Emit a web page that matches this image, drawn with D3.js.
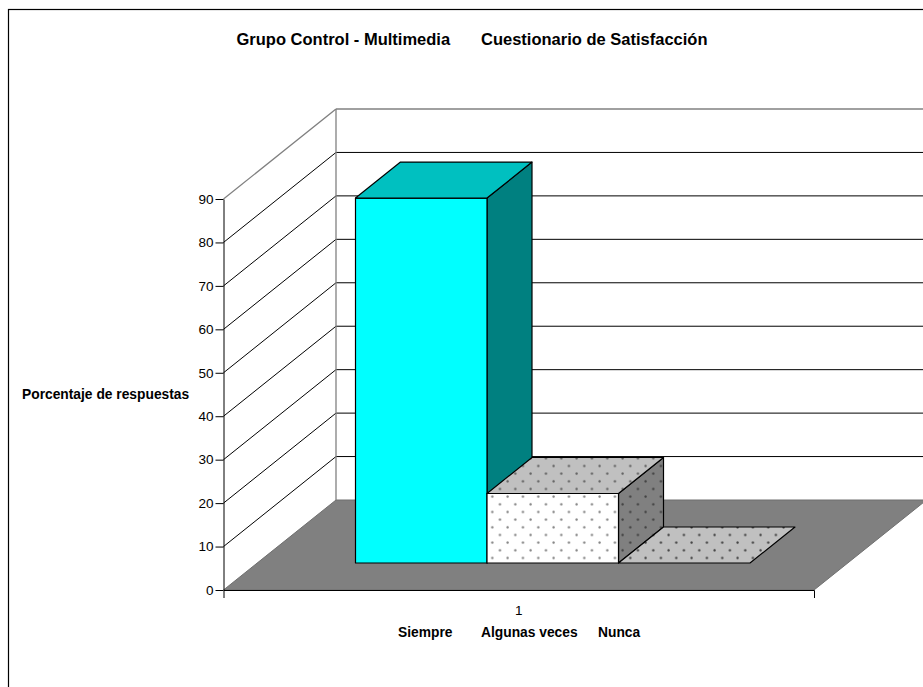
<!DOCTYPE html>
<html>
<head>
<meta charset="utf-8">
<script src="https://cdn.jsdelivr.net/npm/d3@7"></script>
<style>
    html, body { margin: 0; background: #fff; }
    svg { display: block; }
    text { font-family: "Liberation Sans", Arial, sans-serif; fill: #000; }
    .bold { font-weight: bold; font-size: 13.8px; }
</style>
</head>
<body>
<svg id="chart" width="923" height="687"></svg>
<script>
const title1 = "Grupo Control - Multimedia";
const title2 = "Cuestionario de Satisfacción";
const yTitle = "Porcentaje de respuestas";
const categories = ["1"];
const series = ["Siempre", "Algunas veces", "Nunca"];
const values = [84, 16, 0];
const yTicks = [0, 10, 20, 30, 40, 50, 60, 70, 80, 90];

const svg = d3.select("#chart");

// Excel style oblique projection: depth 0 is the front edge, depth 1 the back wall
const y = d3.scaleLinear().domain([0, 90]).range([590, 199]);
const xCat = d3.scaleBand().domain(categories).range([223.5, 814]);
const xBar = d3.scaleBand().domain(series).range([321.75, 716.25]);
const depthX = d3.scaleLinear().domain([0, 1]).range([0, 112.5]);
const depthY = d3.scaleLinear().domain([0, 1]).range([0, -90]);

const barFront = 0.3, barBack = 0.7;
const xLeft = xCat.range()[0], xRight = xCat.range()[1];

// screen point for (x on front edge, value, depth)
const pt = (x, v, d) => [x + depthX(d), y(v) + depthY(d)];
const poly = pts => d3.line()(pts) + "Z";

function addDots(id, bg, dot) {
    let p = svg.append("defs").append("pattern")
        .attr("id", id)
        .attr("patternUnits", "userSpaceOnUse")
        .attr("x", 492.3 - 1.5).attr("y", 496.7 - 1.5)
        .attr("width", 15.33).attr("height", 15.33);
    p.append("rect").attr("width", 16).attr("height", 16).attr("fill", bg);
    p.append("circle").attr("cx", 1.5).attr("cy", 1.5).attr("r", 1.15).attr("fill", dot);
    p.append("circle").attr("cx", 1.5 + 7.67).attr("cy", 1.5 + 7.67).attr("r", 1.15).attr("fill", dot);
}
addDots("dotsFront", "#fff", "#808080");
addDots("dotsTop", "#c0c0c0", "#606060");
addDots("dotsSide", "#808080", "#404040");
addDots("dotsFlat", "#c0c0c0", "#404040");

const faces = [
    { front: "#00ffff", top: "#00c0c0", side: "#008080" },
    { front: "url(#dotsFront)", top: "url(#dotsTop)", side: "url(#dotsSide)" },
    { front: "url(#dotsFront)", top: "url(#dotsFlat)", side: "url(#dotsSide)" }
];

// outer frame, runs off the right and bottom of the page
svg.append("rect")
    .attr("x", 8.5).attr("y", 9.5).attr("width", 1000).attr("height", 1000)
    .attr("fill", "#fff").attr("stroke", "#000").attr("stroke-width", 1.2);

// floor
svg.append("path")
    .attr("d", poly([pt(xLeft, 0, 0), pt(xRight, 0, 0), pt(xRight, 0, 1), pt(xLeft, 0, 1)]))
    .attr("fill", "#808080").attr("stroke", "#6e6e6e");

// walls
svg.append("g").selectAll("line").data(yTicks).join("line")
    .attr("x1", d => pt(xLeft, d, 0)[0]).attr("y1", d => pt(xLeft, d, 0)[1])
    .attr("x2", d => pt(xLeft, d, 1)[0]).attr("y2", d => pt(xLeft, d, 1)[1])
    .attr("stroke", d => d == 90 ? "#808080" : "#000")
    .attr("stroke-width", d => d == 90 ? 1.3 : 1)
    .attr("display", d => d == 0 ? "none" : null);
svg.append("g").selectAll("line").data(yTicks).join("line")
    .attr("x1", d => pt(xLeft, d, 1)[0]).attr("y1", d => pt(xLeft, d, 1)[1])
    .attr("x2", d => pt(xRight, d, 1)[0]).attr("y2", d => pt(xRight, d, 1)[1])
    .attr("stroke", d => d == 90 ? "#808080" : "#000")
    .attr("stroke-width", d => d == 90 ? 1.3 : 1)
    .attr("display", d => d == 0 ? "none" : null);
svg.append("line")
    .attr("x1", pt(xLeft, 0, 1)[0]).attr("y1", pt(xLeft, 0, 1)[1])
    .attr("x2", pt(xLeft, 90, 1)[0]).attr("y2", pt(xLeft, 90, 1)[1])
    .attr("stroke", "#808080").attr("stroke-width", 1.3);

// bars, left to right so the next bar covers the side of the previous one
const bars = svg.append("g").selectAll("g").data(series).join("g")
    .attr("stroke", "#000").attr("stroke-width", 1.2).attr("stroke-linejoin", "round");
bars.each(function(s, i) {
    let g = d3.select(this);
    let x0 = xBar(s), x1 = x0 + xBar.bandwidth(), v = values[i];
    if (v > 0) {
        g.append("path").attr("fill", faces[i].side)
            .attr("d", poly([pt(x1, 0, barFront), pt(x1, 0, barBack), pt(x1, v, barBack), pt(x1, v, barFront)]));
        g.append("path").attr("fill", faces[i].front)
            .attr("d", poly([pt(x0, 0, barFront), pt(x1, 0, barFront), pt(x1, v, barFront), pt(x0, v, barFront)]));
    }
    g.append("path").attr("fill", faces[i].top)
        .attr("d", poly([pt(x0, v, barFront), pt(x1, v, barFront), pt(x1, v, barBack), pt(x0, v, barBack)]));
});

// axes
const yAxis = svg.append("g")
    .attr("transform", `translate(${xLeft},0)`)
    .call(d3.axisLeft(y).tickValues(yTicks).tickSize(8).tickSizeOuter(0).tickPadding(2));
yAxis.selectAll("text").style("font-size", "13.5px");
yAxis.attr("font-family", null);

const xAxis = svg.append("g")
    .attr("transform", `translate(0,${y(0)})`)
    .call(d3.axisBottom(xCat).tickSize(0).tickSizeOuter(8).tickPadding(15));
xAxis.selectAll("text").style("font-size", "13.5px");
xAxis.attr("font-family", null);

// texts
svg.append("text").attr("class", "bold").attr("x", 236.5).attr("y", 45).style("font-size", "16.5px").text(title1);
svg.append("text").attr("class", "bold").attr("x", 481).attr("y", 45).style("font-size", "16.5px").text(title2);
svg.append("text").attr("class", "bold").attr("x", 22).attr("y", 399).text(yTitle);

const legendX = [398, 481, 598];
svg.append("g").selectAll("text").data(series).join("text")
    .attr("class", "bold")
    .attr("x", (d, i) => legendX[i]).attr("y", 637)
    .text(d => d);
</script>
</body>
</html>
